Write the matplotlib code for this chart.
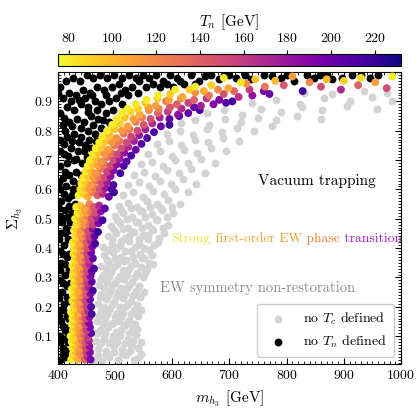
import matplotlib
matplotlib.use("Agg")
import matplotlib.pyplot as plt
import numpy as np
from matplotlib.ticker import MultipleLocator

plt.rcParams['font.family'] = 'serif'
plt.rcParams['font.serif'] = ['cmr10']
plt.rcParams['mathtext.fontset'] = 'cm'
plt.rcParams['axes.formatter.use_mathtext'] = True

# points with no critical temperature (light grey)
no_tc = [
    (463,0.02),(477,0.015),(490,0.03),(505,0.02),(519,0.035),(533,0.02),(545,0.04),
    (470,0.035),(484,0.035),(498,0.045),(512,0.04),(526,0.05),(540,0.025),
    (470,0.055),(484,0.05),(498,0.065),(512,0.055),(527,0.07),(540,0.06),
    (476,0.075),(490,0.075),(504,0.08),(518,0.075),(532,0.085),(546,0.08),
    (466,0.085),(480,0.095),(494,0.085),(508,0.1),(522,0.09),(536,0.105),
    (468,0.11),(482,0.11),(496,0.1),(510,0.12),(524,0.11),(538,0.125),
    (473,0.12),(487,0.13),(501,0.115),(515,0.135),(530,0.125),
    (478,0.14),(492,0.14),(506,0.15),(520,0.145),(535,0.14),
    (468,0.15),(482,0.16),(497,0.145),(511,0.165),(525,0.155),(540,0.17),
    (472,0.17),(486,0.175),(500,0.165),(514,0.18),(528,0.175),(546,0.19),
    (475,0.185),(489,0.19),(503,0.18),(518,0.2),(533,0.19),
    (480,0.2),(494,0.205),(508,0.2),(522,0.21),(538,0.205),
    (470,0.21),(484,0.225),(498,0.215),(513,0.23),(527,0.22),(544,0.235),
    (474,0.235),(488,0.24),(502,0.235),(517,0.245),(531,0.24),(550,0.25),
    (476,0.245),(491,0.255),(505,0.25),(520,0.265),(536,0.255),
    (481,0.265),(495,0.27),(510,0.265),(525,0.275),(541,0.27),
    (472,0.275),(486,0.285),(500,0.28),(515,0.295),(530,0.285),(548,0.3),
    (476,0.295),(490,0.3),(505,0.295),(520,0.31),(535,0.3),(553,0.315),
    (478,0.31),(493,0.32),(508,0.305),(523,0.325),(539,0.315),(555,0.33),
    (484,0.33),(498,0.335),(513,0.325),(528,0.34),(545,0.335),(560,0.35),
    (475,0.34),(489,0.35),(504,0.345),(519,0.36),(534,0.35),(551,0.365),(566,0.345),
    (486,0.36),(500,0.365),(516,0.355),(531,0.37),(547,0.365),(564,0.375),
    (481,0.375),(496,0.385),(511,0.37),(527,0.39),(543,0.38),(560,0.395),
    (488,0.395),(503,0.4),(518,0.39),(534,0.405),(550,0.4),(568,0.41),
    (479,0.405),(494,0.415),(509,0.41),(525,0.425),(541,0.415),(557,0.43),(575,0.42),
    (494,0.43),(510,0.425),(525,0.44),(541,0.43),(558,0.445),(576,0.435),
    (487,0.44),(502,0.45),(517,0.435),(533,0.455),(549,0.445),(566,0.46),(585,0.45),
    (498,0.46),(513,0.465),(530,0.455),(547,0.47),(565,0.465),(583,0.47),
    (493,0.475),(508,0.485),(523,0.47),(540,0.49),(557,0.48),(574,0.495),(592,0.48),
    (504,0.495),(520,0.5),(536,0.49),(553,0.505),(571,0.5),(590,0.505),
    (499,0.51),(514,0.52),(530,0.505),(547,0.525),(564,0.515),(582,0.53),(602,0.52),
    (511,0.53),(527,0.535),(544,0.525),(561,0.54),(580,0.535),(600,0.54),
    (507,0.545),(523,0.555),(539,0.54),(556,0.56),(574,0.55),(593,0.565),(614,0.55),
    (514,0.58),(531,0.59),(548,0.575),(566,0.595),(585,0.585),(605,0.6),(628,0.59),
    (523,0.615),(541,0.625),(559,0.61),(578,0.63),(598,0.62),(619,0.635),(642,0.62),
    (533,0.65),(551,0.66),(570,0.645),(590,0.665),(611,0.655),(633,0.67),(657,0.655),
    (545,0.685),(564,0.695),(584,0.68),(605,0.7),(627,0.69),(650,0.705),(674,0.69),
    (558,0.72),(578,0.73),(599,0.715),(621,0.735),(644,0.725),(668,0.74),(694,0.73),
    (573,0.755),(594,0.765),(616,0.75),(639,0.77),(663,0.76),(689,0.775),(716,0.765),
    (591,0.79),(613,0.8),(637,0.785),(661,0.805),(687,0.795),(714,0.81),(743,0.8),(775,0.815),
    (615,0.825),(640,0.835),(665,0.82),(692,0.84),(720,0.83),(750,0.845),(782,0.835),(818,0.85),(860,0.84),
    (660,0.86),(690,0.87),(722,0.855),(756,0.875),(790,0.865),(826,0.88),(862,0.87),(905,0.885),(958,0.875),
    (740,0.895),(782,0.905),(824,0.89),(866,0.91),(910,0.9),(950,0.915),(985,0.9),
    (830,0.93),(880,0.925),(935,0.935),(975,0.93),
]

# points with no nucleation temperature (black)
no_tn = [
    (404,0.02),(413,0.03),(409,0.04),(418,0.05),(408,0.06),(403,0.08),(417,0.08),
    (413,0.09),(404,0.10),(417,0.11),(412,0.12),(420,0.13),(408,0.135),
    (406,0.15),(420,0.16),(402,0.17),(415,0.17),(403,0.19),(409,0.19),(411,0.21),
    (419,0.22),(402,0.23),(415,0.235),(407,0.25),(416,0.27),(409,0.28),(421,0.28),
    (404,0.29),(412,0.31),(403,0.325),(420,0.33),(413,0.345),(406,0.35),(415,0.37),
    (408,0.38),(420,0.38),(403,0.39),(411,0.41),(418,0.43),(402,0.43),(405,0.45),
    (412,0.45),(420,0.46),(414,0.47),(407,0.49),(421,0.49),(404,0.51),(416,0.505),
    (412,0.53),(424,0.52),(402,0.535),(420,0.545),(406,0.56),(418,0.57),(430,0.55),
    (410,0.585),(424,0.58),(433,0.59),(403,0.60),(414,0.61),(426,0.60),(437,0.62),
    (402,0.625),(426,0.63),(408,0.64),(420,0.65),(440,0.65),(413,0.66),(432,0.66),
    (404,0.68),(416,0.69),(428,0.70),(442,0.69),(450,0.71),(432,0.705),(418,0.715),
    (410,0.72),(404,0.73),(446,0.73),(422,0.74),(435,0.73),(447,0.75),(458,0.74),
    (410,0.755),(424,0.765),(436,0.76),(454,0.77),(466,0.765),
    (404,0.77),(416,0.78),(428,0.79),(440,0.78),(452,0.80),(464,0.79),(476,0.81),
    (412,0.8),(424,0.815),(440,0.81),(462,0.82),(478,0.835),(490,0.83),
    (408,0.82),(420,0.83),(434,0.84),(446,0.83),(458,0.85),(470,0.84),(484,0.86),
    (410,0.845),(452,0.865),(468,0.87),(496,0.87),
    (404,0.86),(416,0.88),(428,0.87),(440,0.89),(452,0.88),(464,0.90),(476,0.89),
    (490,0.90),(502,0.91),(512,0.89),(408,0.91),(420,0.93),(432,0.92),(444,0.94),
    (422,0.9),(436,0.905),(448,0.91),(460,0.92),(484,0.92),(510,0.93),(522,0.92),
    (540,0.93),(400,0.93),
    (456,0.93),(468,0.95),(480,0.94),(494,0.95),(506,0.96),(518,0.94),(530,0.95),
    (542,0.97),(554,0.95),(404,0.95),(414,0.97),(426,0.98),(438,0.97),(450,0.99),
    (462,0.98),(474,0.99),(486,0.98),(498,0.99),(512,0.98),(524,0.99),(536,0.98),
    (548,0.99),(560,0.98),(572,0.99),(584,0.97),(596,0.99),(608,0.98),(620,0.96),
    (566,0.96),(578,0.95),(590,0.96),(602,0.95),(614,0.97),(640,0.96),(658,0.985),
    (682,0.975),(690,0.99),(738,0.975),(775,0.985),(858,0.99),(880,0.975),(930,0.99),
    (632,0.99),(646,0.97),(668,0.99),(700,0.99),(712,0.98),(728,0.99),(760,0.99),
    (790,0.98),(800,0.99),(812,0.97),(835,0.99),(848,0.98),(870,0.99),(896,0.98),
    (915,0.99),(945,0.98),(960,0.99),
]

# successful transitions: (m_h3, Sigma_h3, T_n)
with_tn = [
    (423,0.02,78),(429,0.03,90),(435,0.02,105),(441,0.035,122),(447,0.02,140),(452,0.03,165),(457,0.02,200),
    (426,0.04,84),(432,0.045,98),(438,0.04,115),(444,0.05,132),(450,0.045,155),(456,0.045,190),
    (425,0.06,82),(431,0.065,95),(437,0.055,112),(443,0.07,128),(449,0.06,150),(455,0.065,185),
    (424,0.08,80),(430,0.085,93),(436,0.08,108),(442,0.085,125),(448,0.08,145),(454,0.085,175),
    (422,0.1,76),(428,0.095,88),(434,0.11,102),(440,0.1,118),(446,0.105,135),(452,0.095,160),(458,0.11,205),
    (426,0.12,85),(432,0.125,98),(438,0.12,114),(444,0.125,130),(450,0.12,155),(456,0.13,195),
    (424,0.14,80),(430,0.145,92),(436,0.135,108),(442,0.15,125),(448,0.14,148),(454,0.145,190),
    (425,0.16,82),(431,0.165,95),(437,0.16,110),(443,0.165,128),(449,0.16,150),(455,0.165,185),
    (423,0.18,78),(429,0.185,90),(435,0.175,104),(441,0.19,120),(447,0.18,140),(453,0.185,170),(459,0.175,215),
    (427,0.2,86),(433,0.205,99),(439,0.2,116),(445,0.205,135),(451,0.2,160),(458,0.2,210),
    (425,0.22,83),(431,0.225,96),(437,0.215,112),(443,0.23,130),(449,0.22,155),(456,0.225,200),
    (426,0.24,82),(432,0.245,95),(438,0.24,110),(444,0.245,126),(450,0.24,148),(457,0.245,190),
    (424,0.26,80),(430,0.265,92),(436,0.255,106),(442,0.27,122),(448,0.26,142),(454,0.265,175),(461,0.255,215),
    (428,0.28,86),(434,0.285,100),(440,0.28,116),(446,0.285,135),(452,0.28,160),(459,0.285,205),
    (426,0.3,82),(432,0.305,95),(438,0.295,110),(444,0.31,128),(450,0.3,150),(457,0.305,190),
    (427,0.32,83),(433,0.325,97),(439,0.32,112),(445,0.325,130),(451,0.32,152),(459,0.32,200),
    (425,0.34,80),(431,0.345,93),(437,0.335,107),(443,0.35,124),(449,0.34,145),(455,0.345,172),(463,0.33,210),
    (429,0.36,86),(435,0.365,100),(441,0.36,116),(447,0.365,136),(453,0.36,160),(461,0.365,205),
    (427,0.38,84),(433,0.385,97),(439,0.375,112),(445,0.39,130),(451,0.38,152),(458,0.385,195),
    (428,0.4,82),(434,0.405,96),(440,0.4,110),(446,0.405,128),(452,0.4,150),(460,0.405,190),
    (426,0.42,80),(432,0.425,92),(438,0.415,106),(444,0.43,122),(450,0.42,142),(457,0.425,170),(465,0.415,215),
    (430,0.44,85),(436,0.445,98),(442,0.44,114),(448,0.445,132),(455,0.44,158),(464,0.44,200),
    (428,0.46,82),(434,0.465,96),(440,0.455,110),(446,0.47,128),(453,0.46,150),(461,0.465,185),(470,0.455,220),
    (432,0.48,82),(439,0.485,96),(446,0.48,112),(453,0.485,130),(461,0.48,155),(471,0.485,195),
    (430,0.5,80),(437,0.505,95),(444,0.495,110),(451,0.51,126),(459,0.5,148),(468,0.505,175),(478,0.495,215),
    (434,0.52,80),(441,0.525,94),(449,0.52,110),(457,0.525,128),(465,0.52,150),(475,0.525,185),
    (432,0.54,78),(439,0.545,92),(447,0.535,108),(455,0.55,125),(463,0.54,145),(472,0.545,170),(482,0.535,205),
    (436,0.58,76),(444,0.585,90),(452,0.575,105),(460,0.59,122),(469,0.58,142),(478,0.585,168),(489,0.575,200),(498,0.59,220),
    (439,0.6,82),(447,0.605,96),(455,0.6,112),(464,0.605,130),(473,0.6,150),(483,0.605,180),(494,0.6,212),
    (441,0.62,80),(449,0.625,95),(458,0.615,112),(467,0.63,128),(476,0.62,150),(486,0.625,178),(497,0.615,210),
    (444,0.64,80),(453,0.645,94),(462,0.64,110),(471,0.645,128),(481,0.64,150),(492,0.645,182),
    (448,0.66,82),(457,0.665,98),(466,0.655,115),(476,0.67,132),(486,0.66,155),(497,0.665,185),(509,0.655,215),
    (452,0.68,80),(461,0.685,95),(471,0.68,112),(481,0.685,130),(492,0.68,152),(503,0.685,185),(515,0.68,212),
    (456,0.7,80),(466,0.705,96),(476,0.695,114),(486,0.71,130),(497,0.7,150),(508,0.705,178),(520,0.695,205),
    (461,0.72,82),(471,0.725,98),(482,0.72,115),(493,0.725,132),(504,0.72,152),(516,0.725,182),(528,0.715,212),
    (466,0.74,78),(477,0.745,94),(488,0.735,112),(499,0.75,128),(511,0.74,148),(523,0.745,170),(536,0.735,200),
    (472,0.76,80),(484,0.765,96),(495,0.76,113),(507,0.765,130),(520,0.76,150),(533,0.765,175),(546,0.755,208),
    (478,0.78,80),(490,0.785,98),(502,0.775,115),(515,0.79,132),(528,0.78,152),(542,0.785,180),(556,0.775,210),
    (486,0.8,80),(499,0.805,95),(512,0.8,112),(525,0.805,128),(539,0.8,150),(553,0.805,178),(568,0.795,212),
    (495,0.82,78),(508,0.825,92),(522,0.815,110),(536,0.83,126),(550,0.82,145),(565,0.825,170),(580,0.815,200),(595,0.82,218),
    (503,0.84,82),(517,0.845,95),(532,0.84,110),(547,0.845,126),(562,0.84,148),(578,0.845,175),(595,0.84,205),(612,0.85,218),
    (512,0.86,80),(527,0.865,88),(543,0.855,105),(559,0.87,120),(575,0.86,140),(592,0.865,160),(610,0.855,185),(628,0.86,205),(648,0.87,215),
    (522,0.875,80),(540,0.875,92),(558,0.88,110),(576,0.875,125),(596,0.88,145),(616,0.875,170),(638,0.88,200),
    (536,0.89,82),(553,0.895,95),(571,0.885,110),(589,0.9,125),(608,0.89,140),(628,0.895,155),(650,0.885,175),(672,0.89,190),(694,0.895,210),
    (555,0.905,80),(574,0.91,95),(594,0.905,108),(615,0.91,122),(638,0.905,140),(660,0.91,165),(682,0.905,195),(705,0.9,215),
    (575,0.92,80),(596,0.925,92),(618,0.915,105),(640,0.93,118),(664,0.92,130),(690,0.925,148),(716,0.915,165),(740,0.92,185),(770,0.925,200),
    (605,0.94,80),(630,0.94,92),(655,0.935,105),(680,0.94,120),(708,0.935,138),(735,0.94,160),(760,0.935,195),
    (640,0.95,78),(668,0.955,90),(698,0.945,105),(730,0.96,118),(762,0.95,130),(795,0.955,145),(828,0.935,215),(860,0.95,150),(895,0.94,170),(925,0.955,140),
    (720,0.965,82),(780,0.97,100),(840,0.965,120),(900,0.97,90),(955,0.965,110),
    (690,0.98,80),(745,0.975,95),(810,0.985,110),(870,0.975,100),(930,0.98,85),(985,0.985,78),(975,0.945,150),
]

tn_ticks = [80, 100, 120, 140, 160, 180, 200, 220]

gx, gy = np.array(no_tc).T
bx, by = np.array(no_tn).T
cx, cy, ct = np.array(with_tn).T

fig = plt.figure(figsize=(4.19, 4.08), dpi=100)
ax = fig.add_axes([0.1384, 0.1078, 0.8186, 0.7157])

ms = 32
ax.scatter(gx, gy, s=ms, c='#d3d3d3', linewidths=0, label=r'no $T_c$ defined', zorder=2)
ax.scatter(bx, by, s=ms, c='black', linewidths=0, label=r'no $T_n$ defined', zorder=3)
sc = ax.scatter(cx, cy, s=ms, c=ct, cmap='plasma_r', vmin=75, vmax=232,
                linewidths=0, zorder=4)

ax.set_xlim(400, 1000)
ax.set_ylim(0.005, 1.0)
ax.set_xticks([400, 500, 600, 700, 800, 900, 1000])
ax.set_yticks([0.1, 0.2, 0.3, 0.4, 0.5, 0.6, 0.7, 0.8, 0.9])
ax.xaxis.set_minor_locator(MultipleLocator(10))
ax.yaxis.set_minor_locator(MultipleLocator(0.01))
ax.tick_params(which='both', direction='in', top=True, right=True, labelsize=10)
ax.tick_params(which='major', length=4)
ax.tick_params(which='minor', length=2)
ax.set_xlabel(r'$m_{h_3}$ [GeV]', fontsize=11, labelpad=4)
ax.set_ylabel(r'$\Sigma_{h_3}$', fontsize=11, labelpad=6)

ax.text(750, 0.614, 'Vacuum trapping', fontsize=11, color='black')
ax.text(578, 0.25, 'EW symmetry non-restoration', fontsize=10.5, color='#8c8c8c')

# multi-coloured label, each word chained to the end of the previous one
t = ax.text(599, 0.42, 'Strong', fontsize=9.7, color='#ece43a')
for word, col in [(' first-order EW', '#e8a52e'), (' phase', '#ef7a2a'), (' transition', '#a31ac6')]:
    t = ax.annotate(word, xy=(1, 0), xycoords=t, fontsize=9.7, color=col, va='bottom')

leg = ax.legend(loc='lower right', fontsize=10, handletextpad=0.8, borderpad=0.5,
                markerscale=1.0, framealpha=1, edgecolor='#cccccc')

cax = fig.add_axes([0.1384, 0.838, 0.8186, 0.0294])
cb = fig.colorbar(sc, cax=cax, orientation='horizontal')
cb.set_ticks(tn_ticks)
cax.xaxis.set_ticks_position('top')
cax.xaxis.set_label_position('top')
cax.tick_params(labelsize=10, length=3)
cb.set_label(r'$T_n$ [GeV]', fontsize=11, labelpad=4)

fig.savefig('out.png', dpi=100)
